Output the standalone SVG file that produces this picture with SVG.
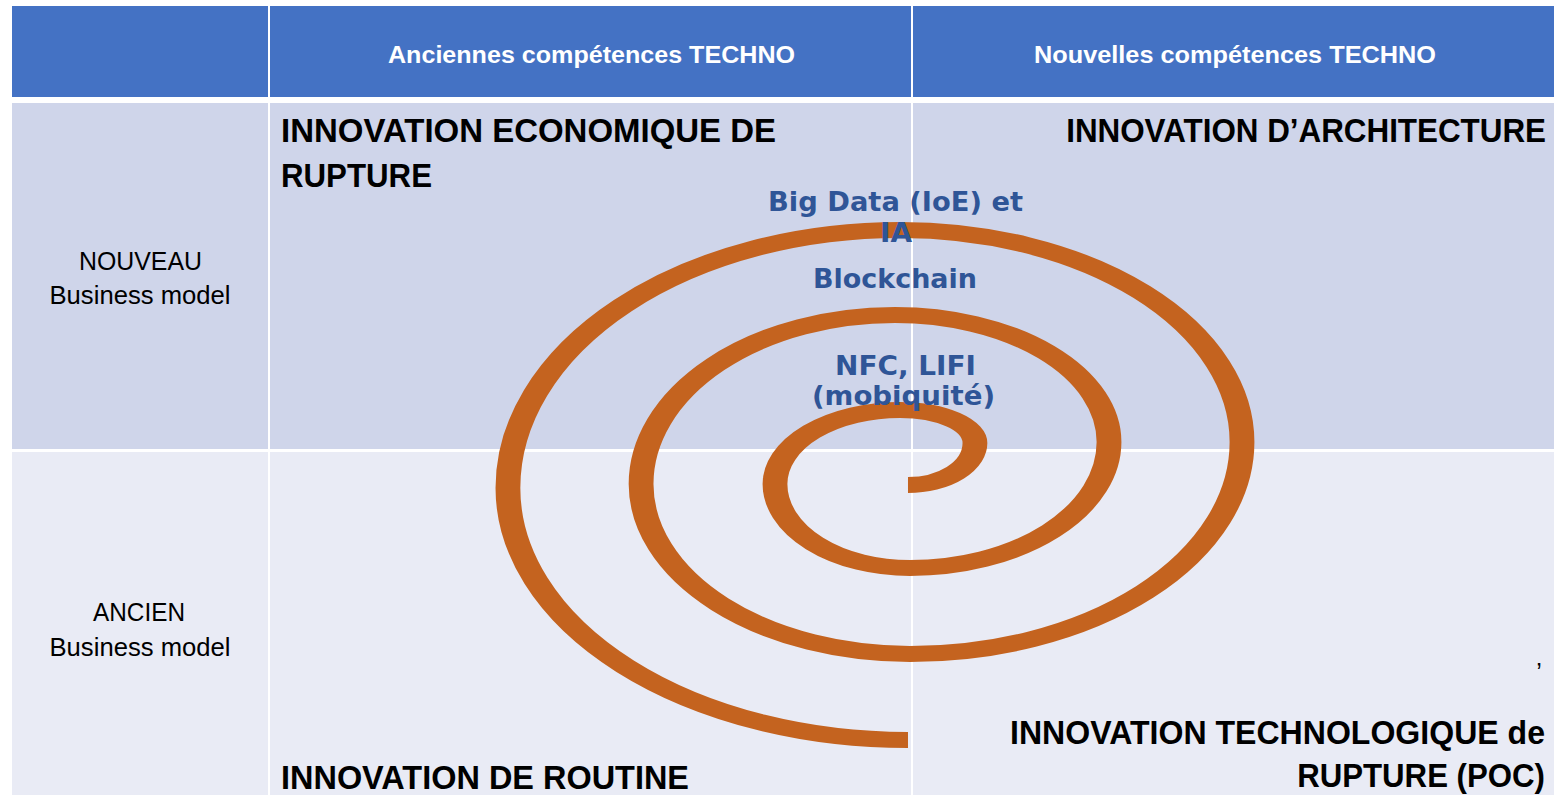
<svg xmlns="http://www.w3.org/2000/svg" width="1554" height="795" viewBox="0 0 1554 795">
  <style>
    .hdr { fill: #4472C4; }
    .r1 { fill: #CFD5EA; }
    .r2 { fill: #E9EBF5; }
    .th { font-family: "Liberation Sans", Arial, sans-serif; font-weight: bold; font-size: 24px; fill: #FFFFFF; }
    .rl { font-family: "Liberation Sans", Arial, sans-serif; font-size: 25px; fill: #000000; text-anchor: middle; }
    .big { font-family: "Liberation Sans", Arial, sans-serif; font-weight: bold; font-size: 34px; fill: #000000; }
    .end { text-anchor: end; }
    .blue { font-family: "DejaVu Sans", Verdana, sans-serif; font-weight: bold; font-size: 26.5px; fill: #2F5597; text-anchor: middle; }
    .spiral { fill: none; stroke: #C4631F; stroke-width: 16; stroke-linecap: butt; }
  </style>
  <rect x="0" y="0" width="1554" height="795" fill="#FFFFFF"/>

  <g id="header">
    <rect class="hdr" x="12" y="6" width="256" height="91"/>
    <rect class="hdr" x="270" y="6" width="641" height="91"/>
    <rect class="hdr" x="913" y="6" width="641" height="91"/>
    <text class="th" x="388" y="63" textLength="407" lengthAdjust="spacingAndGlyphs">Anciennes compétences TECHNO</text>
    <text class="th" x="1034" y="63" textLength="402" lengthAdjust="spacingAndGlyphs">Nouvelles compétences TECHNO</text>
  </g>

  <g id="row-nouveau">
    <rect class="r1" x="12" y="103" width="256" height="346"/>
    <rect class="r1" x="270" y="103" width="641" height="346"/>
    <rect class="r1" x="913" y="103" width="641" height="346"/>
    <text class="rl" x="140.5" y="269.5" textLength="123" lengthAdjust="spacingAndGlyphs">NOUVEAU</text>
    <text class="rl" x="140" y="304" textLength="181" lengthAdjust="spacingAndGlyphs">Business model</text>
  </g>

  <g id="row-ancien">
    <rect class="r2" x="12" y="452" width="256" height="343"/>
    <rect class="r2" x="270" y="452" width="641" height="343"/>
    <rect class="r2" x="913" y="452" width="641" height="343"/>
    <text class="rl" x="139" y="621" textLength="92" lengthAdjust="spacingAndGlyphs">ANCIEN</text>
    <text class="rl" x="140" y="656" textLength="181" lengthAdjust="spacingAndGlyphs">Business model</text>
  </g>

  <g id="spiral">
    <path class="spiral" transform="translate(910 0) scale(1.55 1) translate(-910 0)"
      d="M 908.7 485
         A 43.2 42 0 0 0 951.9 443
         A 48.4 33 0 0 0 903.5 410
         A 80.6 74 0 0 0 822.9 484
         A 87.1 84 0 0 0 910 568
         A 128.4 126 0 0 0 1038.4 442
         A 138.1 127 0 0 0 900.3 315
         A 163.8 169 0 0 0 736.5 484
         A 173.5 170 0 0 0 910 654
         A 214.2 212 0 0 0 1124.2 442
         A 220.7 212 0 0 0 903.5 230
         A 252.9 258 0 0 0 650.6 488
         A 258.1 252 0 0 0 908.7 740"/>
  </g>

  <g id="quadrant-economique">
    <text class="big" x="281" y="142" textLength="495" lengthAdjust="spacingAndGlyphs">INNOVATION ECONOMIQUE  DE</text>
    <text class="big" x="281" y="187" textLength="151" lengthAdjust="spacingAndGlyphs">RUPTURE</text>
  </g>

  <g id="quadrant-architecture">
    <text class="big end" transform="translate(1546 142) scale(0.914 1)" x="0" y="0" textLength="525" lengthAdjust="spacingAndGlyphs">INNOVATION D’ARCHITECTURE</text>
  </g>

  <g id="quadrant-routine">
    <text class="big" x="281" y="789" textLength="408" lengthAdjust="spacingAndGlyphs">INNOVATION DE ROUTINE</text>
  </g>

  <g id="quadrant-technologique">
    <text class="rl" x="1539" y="681" font-size="28">’</text>
    <text class="big end" transform="translate(1545 744) scale(0.924 1)" x="0" y="0" textLength="579" lengthAdjust="spacingAndGlyphs">INNOVATION TECHNOLOGIQUE de</text>
    <text class="big end" transform="translate(1545 787) scale(0.918 1)" x="0" y="0" textLength="270" lengthAdjust="spacingAndGlyphs">RUPTURE (POC)</text>
  </g>

  <g id="tech-bigdata">
    <text class="blue" x="895.5" y="210.5" textLength="255" lengthAdjust="spacingAndGlyphs">Big Data (IoE) et</text>
    <text class="blue" x="896" y="242" textLength="32" lengthAdjust="spacingAndGlyphs">IA</text>
  </g>
  <g id="tech-blockchain">
    <text class="blue" x="895" y="288" textLength="164" lengthAdjust="spacingAndGlyphs">Blockchain</text>
  </g>
  <g id="tech-nfc">
    <text class="blue" x="905.5" y="375" textLength="141" lengthAdjust="spacingAndGlyphs">NFC, LIFI</text>
    <text class="blue" x="903.5" y="405" textLength="183" lengthAdjust="spacingAndGlyphs">(mobiquité)</text>
  </g>
</svg>
